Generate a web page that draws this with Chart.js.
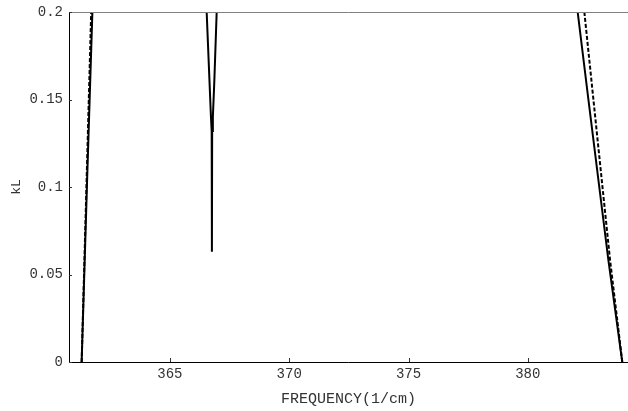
<!DOCTYPE html>
<html>
<head>
<meta charset="utf-8">
<script src="https://cdn.jsdelivr.net/npm/chart.js@4.4.1/dist/chart.umd.min.js"></script>
<style>
  html, body { margin: 0; padding: 0; background: #fff; }
  #wrap { width: 628px; height: 411px; }
</style>
</head>
<body>
<div id="wrap"><canvas id="klChart" width="628" height="411"></canvas></div>
<script>
// kL vs frequency, solid = computed, dashed = reference curve
const leftFreq = [361.30, 361.52, 361.75];
const leftKL = [0, 0.1, 0.2];

const dipFreq = [366.54, 366.66, 366.72, 366.75, 366.76, 366.77, 366.80, 366.86, 366.96];
const dipKL = [0.2, 0.16, 0.14, 0.132, 0.063, 0.132, 0.14, 0.16, 0.2];

const rightFreq = [382.09, 382.54, 383.38, 383.96];
const rightKL = [0.2, 0.15, 0.058, 0];

const dashLeftFreq = [361.30, 361.50, 361.70];
const dashLeftKL = [0, 0.1, 0.2];

const dashRightFreq = [382.37, 382.75, 383.45, 383.96];
const dashRightKL = [0.2, 0.15, 0.058, 0];

const xTicks = [365, 370, 375, 380];
const yTicks = [0, 0.05, 0.1, 0.15, 0.2];

const FONT = 'Liberation Mono, DejaVu Sans Mono, monospace';

function pts(xs, ys) {
    return xs.map((x, i) => ({ x: x, y: ys[i] }));
}

function solid(xs, ys) {
    return { data: pts(xs, ys), borderColor: '#000', borderWidth: 2, pointRadius: 0, tension: 0, fill: false };
}

function dashed(xs, ys) {
    return { data: pts(xs, ys), borderColor: '#000', borderWidth: 2, borderDash: [4, 2], pointRadius: 0, tension: 0, fill: false };
}

// frame lines and inward tick marks
const framePlugin = {
    id: 'frame',
    afterDraw(chart) {
        const c = chart.ctx;
        const a = chart.chartArea;
        const xs = chart.scales.x, ys = chart.scales.y;
        c.save();
        c.lineWidth = 1;
        c.strokeStyle = '#808080';
        c.beginPath();
        c.moveTo(a.left, a.top + 0.5);
        c.lineTo(a.right, a.top + 0.5);
        c.stroke();
        c.strokeStyle = '#000';
        c.beginPath();
        c.moveTo(a.left + 0.5, a.top);
        c.lineTo(a.left + 0.5, a.bottom + 0.5);
        c.lineTo(a.right, a.bottom + 0.5);
        c.stroke();
        c.strokeStyle = '#333';
        xTicks.forEach(v => {
            const px = Math.round(xs.getPixelForValue(v)) + 0.5;
            c.beginPath();
            c.moveTo(px, a.bottom);
            c.lineTo(px, a.bottom - 4);
            c.stroke();
        });
        yTicks.forEach(v => {
            const py = Math.round(ys.getPixelForValue(v)) + 0.5;
            c.beginPath();
            c.moveTo(a.left, py);
            c.lineTo(a.left + 3, py);
            c.stroke();
        });
        c.restore();
    }
};

new Chart(document.getElementById('klChart'), {
    type: 'line',
    data: {
        datasets: [
            dashed(dashLeftFreq, dashLeftKL),
            dashed(dashRightFreq, dashRightKL),
            solid(leftFreq, leftKL),
            solid(dipFreq, dipKL),
            solid(rightFreq, rightKL)
        ]
    },
    options: {
        responsive: false,
        animation: false,
        layout: { padding: { top: 12, right: 0, left: 0, bottom: 0 } },
        plugins: { legend: { display: false }, tooltip: { enabled: false } },
        scales: {
            x: {
                type: 'linear',
                min: 360.77,
                max: 384.2,
                afterFit(s) { s.height = 49; s.paddingLeft = 0; s.paddingRight = 0; },
                afterBuildTicks(s) { s.ticks = xTicks.map(v => ({ value: v })); },
                grid: { display: false, drawTicks: false },
                border: { display: false },
                ticks: { font: { family: FONT, size: 14 }, color: '#333', padding: 4, maxRotation: 0 },
                title: { display: true, text: 'FREQUENCY(1/cm)', font: { family: FONT, size: 15 }, color: '#333', padding: { top: 0, bottom: 3 } }
            },
            y: {
                min: 0,
                max: 0.2,
                afterFit(s) { s.width = 69; s.paddingTop = 0; s.paddingBottom = 0; },
                afterBuildTicks(s) { s.ticks = yTicks.map(v => ({ value: v })); },
                grid: { display: false, drawTicks: false },
                border: { display: false },
                ticks: { font: { family: FONT, size: 14 }, color: '#333', padding: 6, callback: v => String(v) },
                title: { display: true, text: 'kL', font: { family: FONT, size: 13 }, color: '#333', padding: { top: 9, bottom: 0 } }
            }
        }
    },
    plugins: [framePlugin]
});
</script>
</body>
</html>
